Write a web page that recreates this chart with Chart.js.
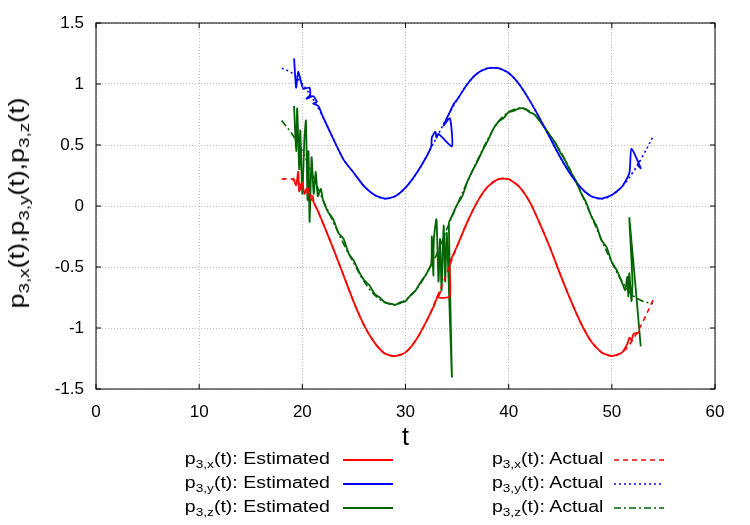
<!DOCTYPE html>
<html>
<head>
<meta charset="utf-8">
<script src="https://cdn.jsdelivr.net/npm/chart.js@4/dist/chart.umd.min.js"></script>
<style>
  html, body { margin: 0; padding: 0; background: #fff; }
  #wrap { position: relative; width: 750px; height: 525px; overflow: hidden;
          font-family: "Liberation Sans", Arial, sans-serif; color: #000; }
  #wrap canvas { position: absolute; left: 0; top: 0; }
  #ytitle { position: absolute; left: 17px; top: 203px; font-size: 22px; white-space: nowrap;
            transform: translate(-50%, -50%) rotate(-90deg) scaleX(1.22); }
  sub { font-size: 0.7em; vertical-align: -0.32em; line-height: 0; }
  .leg-text { position: absolute; height: 24px; line-height: 24px; font-size: 16px;
              white-space: nowrap; transform: scaleX(1.22); transform-origin: right center; }
  .leg-line { position: absolute; }
</style>
</head>
<body>
<div id="wrap">
  <canvas id="trackChart" width="750" height="525"></canvas>
  <div id="ytitle">p<sub>3,x</sub>(t),p<sub>3,y</sub>(t),p<sub>3,z</sub>(t)</div>
  <div id="legend"></div>
</div>
<script>
// axis ticks
const xTickValues = [0, 10, 20, 30, 40, 50, 60];
const xTickLabels = ['0', '10', '20', '30', '40', '50', '60'];
const yTickValues = [-1.5, -1, -0.5, 0, 0.5, 1, 1.5];
const yTickLabels = ['-1.5', '-1', '-0.5', '0', '0.5', '1', '1.5'];

// actual trajectories (sampled every 1 t)
const tActual = [18, 19, 20, 21, 22, 23, 24, 25, 26, 27, 28, 29, 30, 31, 32, 33, 34, 35, 36,
  37, 38, 39, 40, 41, 42, 43, 44, 45, 46, 47, 48, 49, 50, 51, 52, 53, 54];
const actualX = [0.22, 0.22, 0.16, 0.04, -0.14, -0.35, -0.57, -0.79, -0.98, -1.12, -1.21, -1.23,
  -1.20, -1.10, -0.95, -0.76, -0.55, -0.33, -0.13, 0.04, 0.16, 0.22, 0.22, 0.16, 0.04, -0.14,
  -0.34, -0.56, -0.77, -0.96, -1.11, -1.20, -1.23, -1.20, -1.10, -0.95, -0.77];
const actualY = [1.13, 1.09, 1.00, 0.88, 0.73, 0.55, 0.38, 0.27, 0.16, 0.09, 0.06, 0.08, 0.15,
  0.26, 0.40, 0.56, 0.72, 0.87, 1.00, 1.09, 1.13, 1.13, 1.09, 1.00, 0.87, 0.72, 0.56, 0.40,
  0.26, 0.15, 0.08, 0.06, 0.09, 0.16, 0.27, 0.41, 0.57];
const actualZ = [0.70, 0.59, 0.45, 0.25, 0.05, -0.13, -0.31, -0.47, -0.62, -0.73, -0.79, -0.81,
  -0.77, -0.69, -0.56, -0.40, -0.19, 0.01, 0.20, 0.38, 0.55, 0.69, 0.77, 0.80, 0.78, 0.70,
  0.58, 0.45, 0.29, 0.11, -0.08, -0.28, -0.46, -0.62, -0.73, -0.78, -0.80];

// estimated trajectories
const tEstX = [19.1, 19.4, 19.6, 19.7, 20.0, 20.2, 20.5, 20.7, 21.0, 21.1, 21.4,
  22, 23, 24, 25, 26, 27, 28, 29, 30, 31, 32,
  32.8, 33.1, 33.4, 33.2, 34.3, 34.3,
  35, 36, 37, 38, 39, 40, 41, 42, 43, 44, 45, 46, 47, 48, 49, 50, 51,
  51.5, 51.7, 51.9, 52.1, 52.5, 52.7];
const estX = [0.23, 0.17, 0.28, 0.12, 0.19, 0.10, 0.15, 0.09, 0.08, 0.03, -0.02,
  -0.14, -0.35, -0.57, -0.79, -0.98, -1.12, -1.21, -1.23, -1.20, -1.10, -0.95,
  -0.81, -0.74, -0.70, -0.75, -0.74, -0.47,
  -0.33, -0.13, 0.04, 0.16, 0.22, 0.22, 0.16, 0.04, -0.14, -0.34, -0.56, -0.77, -0.96, -1.11,
  -1.20, -1.23, -1.20,
  -1.13, -1.08, -1.10, -1.05, -1.04, -1.03];

const tEstY = [19.2, 19.4, 19.6, 19.9, 20.1, 20.7, 20.75, 20.4, 21.05, 21.4, 21.05, 21.55,
  22, 23, 24, 25, 26, 27, 28, 29, 30, 31, 32,
  32.5, 32.55, 32.9, 33.0, 33.2, 34.5, 34.3, 33.7, 33.95, 34.3, 34.7,
  35, 36, 37, 38, 39, 40, 41, 42, 43, 44, 45, 46, 47, 48, 49, 50, 51,
  51.7, 51.9, 52.8, 52.5, 52.7];
const estY = [1.21, 0.97, 1.10, 1.01, 0.96, 0.97, 0.91, 0.88, 0.90, 0.855, 0.84, 0.82,
  0.73, 0.55, 0.38, 0.27, 0.16, 0.09, 0.06, 0.08, 0.15, 0.26, 0.40,
  0.49, 0.56, 0.61, 0.56, 0.59, 0.49, 0.72, 0.66, 0.71, 0.77, 0.84,
  0.87, 1.00, 1.09, 1.13, 1.13, 1.09, 1.00, 0.87, 0.72, 0.56, 0.40, 0.26, 0.15, 0.08, 0.06,
  0.09, 0.16,
  0.27, 0.47, 0.31, 0.34, 0.37];

const tEstZ = [19.2, 19.4, 19.5, 19.7, 19.8, 20.0, 20.2, 20.35, 20.5, 20.6, 20.7, 20.9, 21.1,
  21.3, 21.5, 21.8,
  22.0, 22.5, 23.0, 23.5, 24.0, 24.5, 25.0, 25.5, 26.0, 26.5, 27.0, 27.5, 28.0, 28.5, 29.0,
  29.5, 30.0, 30.5, 31.0, 31.5, 32.0, 32.5,
  32.55, 32.7, 32.75, 33.0, 33.2, 33.35, 33.5, 33.7, 33.85, 34.0, 34.5, 34.2, 34.4,
  35.0, 35.5, 36.0, 36.5, 37.0, 37.5, 38.0, 38.5, 39.0, 39.5, 40.0, 40.5, 41.0, 41.5, 42.0,
  42.5, 43.0, 43.5, 44.0, 44.5, 45.0, 45.5, 46.0, 46.5, 47.0, 47.5, 48.0, 48.5, 49.0, 49.5,
  50.0, 50.5, 51.0,
  51.3, 51.5, 51.6, 51.7, 51.9, 52.0, 51.7, 52.8];
const estZ = [0.82, 0.45, 0.80, 0.30, 0.62, 0.10, 0.55, 0.70, 0.05, 0.45, -0.13, 0.40, 0.10,
  0.28, 0.08, 0.14,
  0.05, -0.05, -0.11, -0.22, -0.27, -0.39, -0.45, -0.54, -0.61, -0.65, -0.72, -0.75, -0.79,
  -0.80, -0.81, -0.79, -0.78, -0.73, -0.69, -0.62, -0.56, -0.47,
  -0.25, -0.57, -0.27, -0.11, -0.62, -0.27, -0.69, -0.16, -0.62, -0.22, -1.40, -0.14, -0.10,
  0.01, 0.08, 0.20, 0.29, 0.37, 0.46, 0.54, 0.63, 0.69, 0.72, 0.77, 0.78, 0.80, 0.80, 0.77,
  0.75, 0.70, 0.64, 0.58, 0.52, 0.44, 0.37, 0.28, 0.21, 0.11, 0.03, -0.08, -0.16, -0.28,
  -0.34, -0.46, -0.53, -0.63,
  -0.69, -0.58, -0.74, -0.55, -0.78, -0.62, -0.10, -1.15];

const components = ['x', 'y', 'z'];

// styles
const seriesColors = ['#ff0000', '#0000ff', '#006400'];
const actualDash = [[5, 4], [2, 3], [7, 3, 2, 3]];
const fontFamily = '"Liberation Sans", Arial, sans-serif';

function toPoints(ts, vs) {
  return ts.map((t, i) => ({ x: t, y: vs[i] }));
}

const estimated = [[tEstX, estX], [tEstY, estY], [tEstZ, estZ]];
const actual = [actualX, actualY, actualZ];

const datasets = [];
components.forEach((c, i) => {
  datasets.push({
    label: 'p3,' + c + '(t): Estimated',
    kind: 'Estimated', comp: c,
    data: toPoints(estimated[i][0], estimated[i][1]),
    borderColor: seriesColors[i],
    borderWidth: 1.8,
    tension: 0.2,
    pointRadius: 0,
    order: 1
  });
});
components.forEach((c, i) => {
  datasets.push({
    label: 'p3,' + c + '(t): Actual',
    kind: 'Actual', comp: c,
    data: toPoints(tActual, actual[i]),
    borderColor: seriesColors[i],
    borderWidth: 1.6,
    borderDash: actualDash[i],
    tension: 0.35,
    pointRadius: 0,
    order: 0
  });
});

// gnuplot style frame with inward ticks
const framePlugin = {
  id: 'frame',
  afterDatasetsDraw(chart) {
    const { ctx, chartArea: a, scales: { x, y } } = chart;
    ctx.save();
    ctx.strokeStyle = '#000';
    ctx.lineWidth = 1;
    ctx.strokeRect(a.left, a.top, a.right - a.left, a.bottom - a.top);
    ctx.beginPath();
    x.ticks.forEach(t => {
      const px = x.getPixelForValue(t.value);
      ctx.moveTo(px, a.bottom); ctx.lineTo(px, a.bottom - 5);
      ctx.moveTo(px, a.top); ctx.lineTo(px, a.top + 5);
    });
    y.ticks.forEach(t => {
      const py = y.getPixelForValue(t.value);
      ctx.moveTo(a.left, py); ctx.lineTo(a.left + 5, py);
      ctx.moveTo(a.right, py); ctx.lineTo(a.right - 5, py);
    });
    ctx.stroke();
    ctx.restore();
  }
};

const ctx = document.getElementById('trackChart').getContext('2d');
const chart = new Chart(ctx, {
  type: 'line',
  data: { datasets },
  options: {
    responsive: false,
    animation: false,
    layout: { padding: { left: 0, top: 23, right: 35, bottom: 72 } },
    plugins: {
      legend: { display: false },
      tooltip: { enabled: false }
    },
    scales: {
      x: {
        type: 'linear',
        min: 0,
        max: 60,
        afterBuildTicks(scale) { scale.ticks = xTickValues.map(v => ({ value: v })); },
        ticks: {
          color: '#000',
          padding: 13,
          maxRotation: 0,
          font: { family: fontFamily, size: 17 },
          callback: v => xTickLabels[xTickValues.indexOf(v)]
        },
        grid: { color: '#bdbdbd', lineWidth: 1, drawTicks: false },
        border: { display: false, dash: [1, 2] },
        title: { display: true, text: 't', color: '#000', padding: 0,
                 font: { family: fontFamily, size: 25 } },
        afterFit(scale) { scale.height = 64; }
      },
      y: {
        type: 'linear',
        min: -1.5,
        max: 1.5,
        afterBuildTicks(scale) { scale.ticks = yTickValues.map(v => ({ value: v })); },
        ticks: {
          color: '#000',
          padding: 12,
          font: { family: fontFamily, size: 17 },
          callback: v => yTickLabels[yTickValues.indexOf(v)]
        },
        grid: { color: '#bdbdbd', lineWidth: 1, drawTicks: false },
        border: { display: false, dash: [1, 2] },
        afterFit(scale) { scale.width = 96; }
      }
    }
  },
  plugins: [framePlugin]
});

// legend in two columns (estimated left, actual right), built from the datasets
const legendCols = {
  Estimated: { textRight: 330, lineLeft: 343, lineWidth: 50 },
  Actual: { textRight: 603, lineLeft: 614, lineWidth: 50 }
};
const legendRows = [459, 483, 507];
const legend = document.getElementById('legend');
chart.data.datasets.forEach(ds => {
  const col = legendCols[ds.kind];
  const row = legendRows[components.indexOf(ds.comp)];
  const text = document.createElement('div');
  text.className = 'leg-text';
  text.style.right = (750 - col.textRight) + 'px';
  text.style.top = (row - 12) + 'px';
  text.innerHTML = 'p<sub>3,' + ds.comp + '</sub>(t): ' + ds.kind;
  legend.appendChild(text);

  const svgNS = 'http://www.w3.org/2000/svg';
  const svg = document.createElementNS(svgNS, 'svg');
  svg.setAttribute('class', 'leg-line');
  svg.setAttribute('width', col.lineWidth);
  svg.setAttribute('height', 6);
  svg.style.left = col.lineLeft + 'px';
  svg.style.top = (row - 2) + 'px';
  const line = document.createElementNS(svgNS, 'line');
  line.setAttribute('x1', 0); line.setAttribute('y1', 3);
  line.setAttribute('x2', col.lineWidth); line.setAttribute('y2', 3);
  line.setAttribute('stroke', ds.borderColor);
  line.setAttribute('stroke-width', ds.borderWidth);
  if (ds.borderDash) line.setAttribute('stroke-dasharray', ds.borderDash.join(' '));
  svg.appendChild(line);
  legend.appendChild(svg);
});
</script>
</body>
</html>
